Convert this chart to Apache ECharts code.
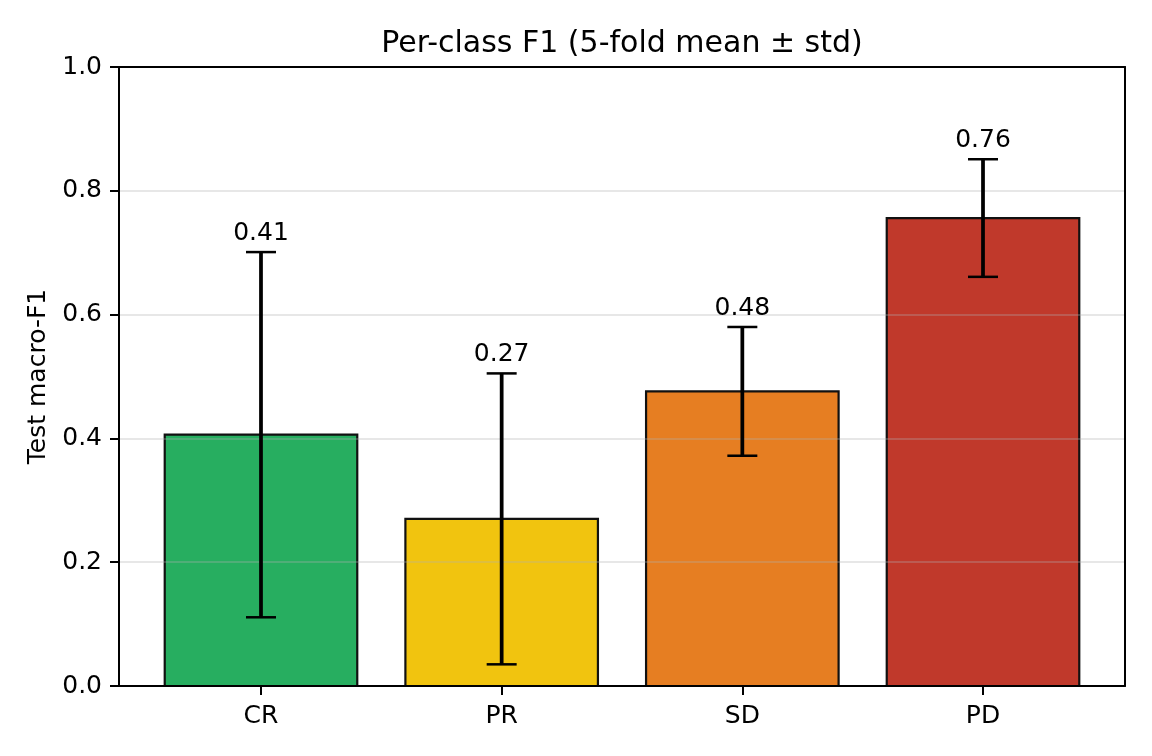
<!DOCTYPE html>
<html>
<head>
<meta charset="utf-8">
<title>Per-class F1</title>
<script src="https://cdn.jsdelivr.net/npm/echarts@6/dist/echarts.min.js"></script>
<style>
  html, body { margin: 0; padding: 0; background: #fff; }
  #chart { width: 1152px; height: 756px; }
</style>
</head>
<body>
<div id="chart"></div>
<script>
// data
const classes = ['CR', 'PR', 'SD', 'PD'];
const meanF1 = [0.406, 0.270, 0.476, 0.756];
const stdF1 = [0.295, 0.235, 0.104, 0.095];
const barColors = ['#27ae60', '#f1c40f', '#e67e22', '#c0392b'];
const yTicks = [0, 0.2, 0.4, 0.6, 0.8, 1.0];

const FONT = 'DejaVu Sans';
const positions = classes.map((c, i) => i);

const chart = echarts.init(document.getElementById('chart'), null, { renderer: 'canvas' });

const frameLine = { show: true, onZero: false, lineStyle: { color: '#000', width: 2 } };

chart.setOption({
  animation: false,
  backgroundColor: '#fff',
  title: {
    text: 'Per-class F1 (5-fold mean ± std)',
    left: 622,
    top: 29,
    padding: 0,
    textAlign: 'center',
    textStyle: { fontFamily: FONT, fontSize: 30, fontWeight: 'normal', color: '#000' },
  },
  grid: { left: 119, right: 27, top: 67, bottom: 70 },
  xAxis: [
    {
      type: 'value',
      position: 'bottom',
      min: -0.59,
      max: 3.59,
      z: 4,
      axisLine: frameLine,
      axisTick: {
        show: true,
        customValues: positions,
        length: 9,
        lineStyle: { color: '#000', width: 2 },
      },
      axisLabel: {
        customValues: positions,
        formatter: (v) => classes[Math.round(v)] || '',
        fontFamily: FONT,
        fontSize: 25,
        color: '#000',
        margin: 18,
      },
      splitLine: { show: false },
    },
    {
      type: 'value',
      position: 'top',
      min: -0.59,
      max: 3.59,
      z: 4,
      axisLine: frameLine,
      axisTick: { show: false },
      axisLabel: { show: false },
      splitLine: { show: false },
    },
  ],
  yAxis: [
    {
      type: 'value',
      position: 'left',
      min: 0,
      max: 1,
      interval: 0.2,
      z: 3,
      name: 'Test macro-F1',
      nameLocation: 'middle',
      nameGap: 68,
      nameTextStyle: { fontFamily: FONT, fontSize: 25, color: '#000' },
      axisLine: frameLine,
      axisTick: {
        show: true,
        customValues: yTicks,
        length: 9,
        lineStyle: { color: '#000', width: 2 },
      },
      axisLabel: {
        customValues: yTicks,
        formatter: (v) => v.toFixed(1),
        fontFamily: FONT,
        fontSize: 25,
        color: '#000',
        margin: 17,
        padding: [3, 0, 0, 0],
      },
      splitLine: { show: true, lineStyle: { color: 'rgba(176,176,176,0.3)', width: 2 } },
    },
    {
      type: 'value',
      position: 'right',
      min: 0,
      max: 1,
      z: 4,
      axisLine: frameLine,
      axisTick: { show: false },
      axisLabel: { show: false },
      splitLine: { show: false },
    },
  ],
  series: [
    {
      // bars, width 0.8 of the x unit
      type: 'custom',
      z: 2,
      encode: { x: 0, y: 1 },
      data: classes.map((c, i) => [i, meanF1[i]]),
      renderItem(params, api) {
        const i = api.value(0);
        const topLeft = api.coord([i - 0.4, api.value(1)]);
        const bottomRight = api.coord([i + 0.4, 0]);
        return {
          type: 'rect',
          shape: {
            x: topLeft[0],
            y: topLeft[1],
            width: bottomRight[0] - topLeft[0],
            height: bottomRight[1] - topLeft[1],
          },
          style: { fill: barColors[params.dataIndex], stroke: '#111', lineWidth: 2.2 },
        };
      },
    },
    {
      // error bars + value labels
      type: 'custom',
      z: 5,
      encode: { x: 0, y: [1, 2] },
      data: classes.map((c, i) => [i, meanF1[i] - stdF1[i], meanF1[i] + stdF1[i], meanF1[i]]),
      renderItem(params, api) {
        const i = api.value(0);
        const lo = api.coord([i, api.value(1)]);
        const hi = api.coord([i, api.value(2)]);
        const cap = 15;
        const stroke = { stroke: '#000', lineWidth: 2.5 };
        return {
          type: 'group',
          children: [
            { type: 'line', shape: { x1: lo[0], y1: lo[1], x2: hi[0], y2: hi[1] }, style: { stroke: '#000', lineWidth: 3.75 } },
            { type: 'line', shape: { x1: hi[0] - cap, y1: hi[1], x2: hi[0] + cap, y2: hi[1] }, style: stroke },
            { type: 'line', shape: { x1: lo[0] - cap, y1: lo[1], x2: lo[0] + cap, y2: lo[1] }, style: stroke },
            {
              type: 'text',
              x: hi[0],
              y: hi[1] - 6,
              style: {
                text: api.value(3).toFixed(2),
                align: 'center',
                verticalAlign: 'bottom',
                fontFamily: FONT,
                fontSize: 25,
                fill: '#000',
              },
            },
          ],
        };
      },
    },
  ],
});
</script>
</body>
</html>
